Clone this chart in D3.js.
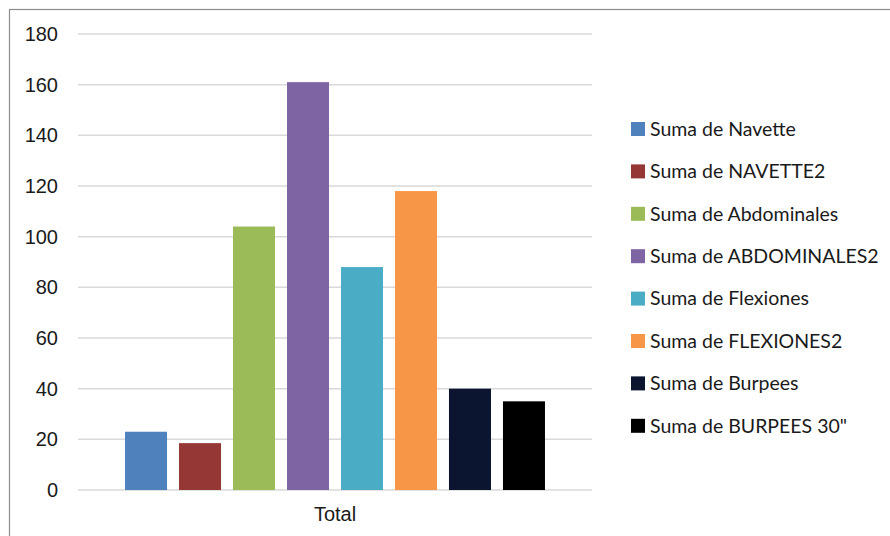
<!DOCTYPE html>
<html>
<head>
<meta charset="utf-8">
<script src="https://cdn.jsdelivr.net/npm/d3@7"></script>
<style>
  body { margin: 0; background: #fff; }
  svg { display: block; font-family: Lato, "Open Sans", sans-serif; }
  .tick text { fill: #1a1a1a; font-size: 20px; }
  .legend text { fill: #1a1a1a; font-size: 19.5px; }
</style>
</head>
<body>
<div id="chart"></div>
<script>
const categories = ['Total'];
const seriesNames = [
  'Suma de Navette', 'Suma de NAVETTE2', 'Suma de Abdominales', 'Suma de ABDOMINALES2',
  'Suma de Flexiones', 'Suma de FLEXIONES2', 'Suma de Burpees', 'Suma de BURPEES 30"'
];
const seriesValues = [23, 18.5, 104, 161, 88, 118, 40, 35];
const seriesColors = ['#4f81bd', '#953735', '#9bbb59', '#7f64a3', '#4bacc6', '#f79646', '#0c1530', '#000000'];
const yTicks = [0, 20, 40, 60, 80, 100, 120, 140, 160, 180];

const width = 890;
const height = 536;
const plot = { left: 78, right: 592, top: 34, bottom: 490 };

const svg = d3.select('#chart').append('svg')
  .attr('width', width)
  .attr('height', height);

// outer frame (cut by window on right and bottom)
svg.append('rect')
  .attr('x', 9.5).attr('y', 9.5)
  .attr('width', width).attr('height', height)
  .attr('fill', 'none')
  .attr('stroke', '#8c8c8c')
  .attr('stroke-width', 1.2);

const y = d3.scaleLinear().domain([0, 180]).range([plot.bottom, plot.top]);

const x0 = d3.scaleBand()
  .domain(categories)
  .range([plot.left, plot.right])
  .paddingInner(0)
  .paddingOuter(0.095);

const x1 = d3.scaleBand()
  .domain(seriesNames)
  .range([0, x0.bandwidth()])
  .paddingInner(0.222)
  .paddingOuter(0.111);

// gridlines
svg.append('g')
  .attr('class', 'grid')
  .selectAll('line')
  .data(yTicks)
  .join('line')
  .attr('x1', plot.left).attr('x2', plot.right)
  .attr('y1', d => y(d)).attr('y2', d => y(d))
  .attr('stroke', '#d9d9d9')
  .attr('stroke-width', 1.5);

// y axis labels
const yAxis = svg.append('g')
  .attr('transform', 'translate(60,0)')
  .call(d3.axisLeft(y).tickValues(yTicks).tickSize(0).tickPadding(2));
yAxis.select('.domain').remove();

// x axis label
const xAxis = svg.append('g')
  .attr('transform', `translate(0,${plot.bottom})`)
  .call(d3.axisBottom(x0).tickSize(0).tickPadding(17));
xAxis.select('.domain').remove();

// bars
const rows = seriesNames.map((name, i) => ({ name, value: seriesValues[i], color: seriesColors[i] }));

svg.append('g')
  .selectAll('g')
  .data(categories)
  .join('g')
  .attr('transform', d => `translate(${x0(d)},0)`)
  .selectAll('rect')
  .data(rows)
  .join('rect')
  .attr('x', d => x1(d.name))
  .attr('y', d => y(d.value))
  .attr('width', x1.bandwidth())
  .attr('height', d => y(0) - y(d.value))
  .attr('fill', d => d.color);

// legend
const legend = svg.append('g')
  .attr('class', 'legend')
  .attr('transform', 'translate(631,129)');

const item = legend.selectAll('g')
  .data(rows)
  .join('g')
  .attr('transform', (d, i) => `translate(0,${i * 42.4})`);

item.append('rect')
  .attr('x', 0).attr('y', -7)
  .attr('width', 14).attr('height', 14)
  .attr('fill', d => d.color);

item.append('text')
  .attr('x', 19)
  .attr('dy', '0.35em')
  .text(d => d.name);
</script>
</body>
</html>
